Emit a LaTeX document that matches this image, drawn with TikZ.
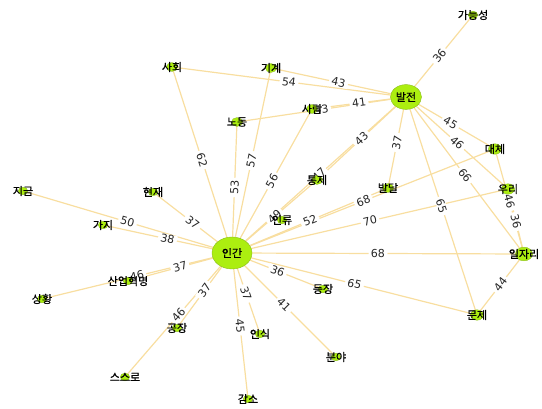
\documentclass[tikz,border=0pt]{standalone}
\usepackage{fontspec}
\newfontfamily\krfont[FakeBold=0.7]{Noto Sans CJK KR}
\newfontfamily\numfont{DejaVu Sans}
\usetikzlibrary{shapes.geometric}

\pgfdeclarelayer{edges}
\pgfdeclarelayer{weights}
\pgfsetlayers{edges,weights,main}

\definecolor{edgecol}{RGB}{248,222,160}
\definecolor{nodefill}{RGB}{172,238,16}
\definecolor{nodeline}{RGB}{140,190,30}

\tikzset{
  dot/.style={ellipse, fill=nodefill, draw=nodeline, line width=0.4pt,
    inner sep=0pt, minimum width=#1, minimum height={0.8*#1}},
  hub/.style={dot=40pt},
  major/.style={dot=31pt},
  mid/.style={dot=17pt},
  minor/.style={dot=13pt},
  small/.style={dot=11pt},
  tiny/.style={dot=9.5pt},
  wlabel/.style={font=\krfont\fontsize{11}{13}\selectfont, text=black, inner sep=0pt},
  link/.style={draw=edgecol, line width=1.2pt},
  weight/.style={font=\numfont\fontsize{11}{12}\selectfont, text=black!85,
    fill=white, inner xsep=2.5pt, inner ysep=0.5pt, sloped, pos=0.5}
}

\begin{document}
\begin{tikzpicture}[x=1pt, y=-1pt]
\useasboundingbox (0,0) rectangle (542,409);

% word nodes
\node[hub,   label={[wlabel]center:인간}]   (ingan)     at (232,253) {};
\node[major, label={[wlabel]center:발전}]   (baljeon)   at (406,97)  {};
\node[mid,   label={[wlabel]center:일자리}] (iljari)    at (524,254) {};
\node[minor, label={[wlabel]center:대체}]   (daeche)    at (495,149) {};
\node[minor, label={[wlabel]center:우리}]   (uri)       at (508,189) {};
\node[minor, label={[wlabel]center:문제}]   (munje)     at (477,315) {};
\node[small, label={[wlabel]center:사회}]   (sahoe)     at (172,67)  {};
\node[small, label={[wlabel]center:기계}]   (gigye)     at (271,68)  {};
\node[small, label={[wlabel]center:사람}]   (saram)     at (312,109) {};
\node[small, label={[wlabel]center:노동}]   (nodong)    at (237,122) {};
\node[small, label={[wlabel]center:발달}]   (baldal)    at (388,188) {};
\node[small, label={[wlabel]center:통제}]   (tongje)    at (317,180) {};
\node[tiny,  label={[wlabel]center:인류}]   (illyu)     at (282,220) {};
\node[tiny,  label={[wlabel]center:가능성}] (ganeung)   at (473,15)  {};
\node[tiny,  label={[wlabel]center:현재}]   (hyeonjae)  at (153,192) {};
\node[tiny,  label={[wlabel]center:지금}]   (jigeum)    at (23,191)  {};
\node[tiny,  label={[wlabel]center:가지}]   (gaji)      at (103,225) {};
\node[tiny,  label={[wlabel]center:산업혁명}] (saneop)  at (128,281) {};
\node[tiny,  label={[wlabel]center:상황}]   (sanghwang) at (42,299)  {};
\node[tiny,  label={[wlabel]center:공장}]   (gongjang)  at (177,328) {};
\node[tiny,  label={[wlabel]center:스스로}] (seuseuro)  at (125,377) {};
\node[tiny,  label={[wlabel]center:인식}]   (insik)     at (260,334) {};
\node[tiny,  label={[wlabel]center:감소}]   (gamso)     at (248,399) {};
\node[tiny,  label={[wlabel]center:등장}]   (deungjang) at (323,289) {};
\node[tiny,  label={[wlabel]center:분야}]   (bunya)     at (336,357) {};

\def\edgelist{
  baljeon/ganeung/36, baljeon/sahoe/54, baljeon/gigye/43, baljeon/nodong/43,
  baljeon/saram/41, baljeon/tongje/43, ingan/baljeon/47, baldal/baljeon/37,
  baljeon/daeche/45, baljeon/uri/46, baljeon/iljari/66, baljeon/munje/65,
  ingan/sahoe/62, ingan/gigye/57, ingan/nodong/53, ingan/saram/56,
  ingan/tongje/49, ingan/baldal/52, ingan/daeche/68, ingan/uri/70,
  ingan/iljari/68, ingan/munje/65, ingan/deungjang/36, ingan/bunya/41,
  ingan/insik/37, ingan/gamso/45, ingan/gongjang/37, ingan/seuseuro/46,
  ingan/saneop/37, ingan/sanghwang/46, ingan/gaji/38, ingan/jigeum/50,
  ingan/hyeonjae/37, daeche/iljari/46, uri/iljari/36, iljari/munje/44}

% connectors, centre to centre
\begin{pgfonlayer}{edges}
  \foreach \a/\b/\w in \edgelist {
    \draw[link] (\a.center) -- (\b.center);
  }
\end{pgfonlayer}

% co-occurrence weights at the middle of each connector
\begin{pgfonlayer}{weights}
  \foreach \a/\b/\w in \edgelist {
    \path (\a.center) -- node[weight] {\w} (\b.center);
  }
\end{pgfonlayer}
\end{tikzpicture}
\end{document}
